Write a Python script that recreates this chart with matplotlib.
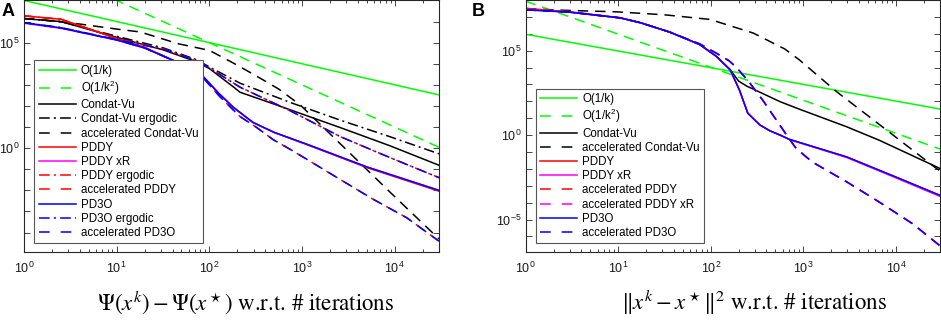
import matplotlib
matplotlib.use('Agg')
import matplotlib.pyplot as plt
from matplotlib.ticker import FixedLocator, FuncFormatter, NullFormatter, NullLocator
import numpy as np

plt.rcParams['font.family'] = ['Liberation Sans', 'DejaVu Sans']
plt.rcParams['lines.scale_dashes'] = False

# ---------------- Panel A data (objective gap) ----------------
A_k_rate = [1, 30000]
A_rate1 = [1e7, 333]
A_rate2 = [1e9, 1.1]

A_k_cv = [1, 2.5, 10, 32, 72, 100, 182, 214, 490, 2570, 8900, 30000]
A_cv = [1.38e6, 1.0e6, 1.78e5, 4.5e4, 1.26e4, 5.9e3, 794, 447, 126, 9.5, 1.29, 0.155]

A_k_cverg = [1, 2.5, 10, 32, 72, 100, 214, 740, 2570, 8900, 30000]
A_cverg = [1.38e6, 1.0e6, 2.0e5, 5.6e4, 1.58e4, 7.1e3, 1.2e3, 148, 21.4, 3.47, 0.54]

A_k_acv = [1, 1.7, 4, 10, 18, 46, 100, 182, 316, 560, 955, 3160, 10000, 30000]
A_acv = [1.41e6, 1.15e6, 7.6e5, 4.4e5, 3.2e5, 8.9e4, 4.3e4, 1.07e4, 2.75e3, 631, 112, 0.68, 5.0e-3, 5.0e-5]

A_k_sol = [1, 2.5, 10, 20, 41, 87, 126, 182, 295, 500, 1120, 5000, 30000]
A_pddy = [1.86e6, 1.29e6, 1.58e5, 6.0e4, 1.45e4, 2.3e3, 398, 85, 16.6, 5.5, 1.48, 0.12, 9.1e-3]
A_pddyxr = [8.3e5, 4.8e5, 1.32e5, 5.6e4, 1.41e4, 2.3e3, 398, 85, 16.6, 5.6, 1.55, 0.129, 0.01]
A_pd3o = [8.9e5, 5.0e5, 1.35e5, 5.6e4, 1.41e4, 2.3e3, 398, 85, 16.6, 5.6, 1.55, 0.129, 0.01]

A_k_erg = [1, 2.5, 10, 32, 72, 100, 214, 740, 2570, 8900, 30000]
A_pddyerg = [1.86e6, 1.26e6, 1.58e5, 5.0e4, 1.45e4, 6.3e3, 776, 60, 3.55, 0.355, 0.040]
A_pd3oerg = [8.9e5, 5.2e5, 1.41e5, 4.8e4, 1.45e4, 6.3e3, 776, 60, 3.55, 0.355, 0.040]

A_k_acc = [1, 2.5, 10, 20, 41, 87, 126, 182, 214, 324, 490, 740, 1120, 2570, 5900, 13500, 30000]
A_accpddy = [1.86e6, 1.29e6, 1.58e5, 6.0e4, 1.41e4, 2.0e3, 316, 63, 31.6, 9.5, 2.5, 0.89, 0.30, 0.033, 3.7e-3, 5.0e-4, 3.9e-5]
A_accpd3o = [8.9e5, 5.0e5, 1.35e5, 5.6e4, 1.41e4, 2.0e3, 316, 63, 31.6, 9.5, 2.5, 0.89, 0.30, 0.033, 3.7e-3, 5.0e-4, 3.9e-5]

# ---------------- Panel B data (distance to solution) ----------------
B_k_rate = [1, 30000]
B_rate1 = [9.3e5, 35]
B_rate2 = [8.5e7, 0.15]

B_k_cv = [1, 3, 10.5, 17.4, 36, 76, 115, 162, 200, 245, 302, 562, 912, 2950, 6600, 27500, 30000]
B_cv = [2.8e7, 1.9e7, 8.7e6, 4.5e6, 1.26e6, 2.3e5, 4.6e4, 7.4e3, 1.58e3, 794, 468, 95, 34, 3.1, 0.5, 0.0132, 0.0105]

B_k_acv = [1, 3, 9.5, 32, 98, 288, 630, 910, 2290, 7940, 27500, 30000]
B_acv = [3.0e7, 2.4e7, 2.0e7, 1.32e7, 7.1e6, 1.1e6, 1.26e5, 2.8e4, 372, 2.0, 0.0105, 7.9e-3]

B_k_sol = [1, 3, 10.5, 17.4, 36, 76, 115, 162, 204, 251, 339, 437, 562, 708, 2950, 10000, 30000]
B_pddy = [3.2e7, 2.0e7, 8.9e6, 4.5e6, 1.26e6, 2.3e5, 4.6e4, 7.4e3, 468, 20, 4.0, 1.78, 1.0, 0.56, 0.051, 3.3e-3, 2.7e-4]
B_pddyxr = [2.8e7, 1.9e7, 8.7e6, 4.5e6, 1.26e6, 2.3e5, 4.6e4, 7.4e3, 468, 20, 4.0, 1.78, 1.0, 0.54, 0.047, 2.95e-3, 2.35e-4]
B_pd3o = [2.6e7, 1.9e7, 8.7e6, 4.5e6, 1.26e6, 2.3e5, 4.6e4, 7.4e3, 468, 20, 4.0, 1.78, 1.0, 0.56, 0.051, 3.3e-3, 2.7e-4]

B_k_acc = [1, 3, 10.5, 17.4, 36, 76, 115, 158, 190, 263, 372, 468, 661, 813, 1000, 1259, 2950, 6600, 15100, 30000]
B_accpddy = [3.2e7, 2.0e7, 8.9e6, 4.5e6, 1.26e6, 2.5e5, 7.1e4, 2.5e4, 1.0e4, 1.26e3, 100, 15.8, 1.0, 0.2, 0.071, 0.025, 1.7e-3, 1.1e-4, 5.75e-6, 2.8e-7]
B_accpddyxr = [2.8e7, 1.9e7, 8.7e6, 4.5e6, 1.26e6, 2.5e5, 7.1e4, 2.5e4, 1.0e4, 1.26e3, 100, 15.8, 1.0, 0.2, 0.071, 0.025, 1.7e-3, 1.1e-4, 5.75e-6, 2.8e-7]
B_accpd3o = [2.6e7, 1.9e7, 8.7e6, 4.5e6, 1.26e6, 2.5e5, 7.1e4, 2.5e4, 1.0e4, 1.26e3, 100, 15.8, 1.0, 0.2, 0.071, 0.025, 1.7e-3, 1.1e-4, 5.75e-6, 2.8e-7]

# axis ticks (decades inside each panel's range)
X_DECADES = [1, 10, 100, 1000, 10000]
A_Y_DECADES = [1e-4, 1e-3, 1e-2, 1e-1, 1, 1e1, 1e2, 1e3, 1e4, 1e5, 1e6, 1e7]
B_Y_DECADES = [1e-7, 1e-6, 1e-5, 1e-4, 1e-3, 1e-2, 1e-1, 1, 1e1, 1e2, 1e3, 1e4, 1e5, 1e6, 1e7, 1e8]

GREEN = '#00ff00'
RED = '#ff0000'
MAG = '#ff00ff'
BLUE = '#0000ff'
BLACK = '#000000'
SOLID = '-'
DASH = (0, (7.5, 5.0))
DASHDOT = (0, (7.5, 2.8, 1.4, 2.8))
LEG_DASH = (0, (7.7, 7.9))
LEG_DASHDOT = (0, (7.7, 3.0, 1.5, 3.0))
LW = 1.1
AXC = '#262626'

fig = plt.figure(figsize=(9.41, 3.2), dpi=100)
axA = fig.add_axes([24 / 941, 1 - 252 / 320, 415 / 941, 252 / 320])
axB = fig.add_axes([525.7 / 941, 1 - 252 / 320, 414.3 / 941, 252 / 320])


def yfmt(v, p):
    e = int(np.round(np.log10(v)))
    if e % 5 == 0:
        return r'$\mathdefault{10^{%d}}$' % e
    return ''


def xfmt(v, p):
    e = int(np.round(np.log10(v)))
    return r'$\mathdefault{10^{%d}}$' % e


def style(ax, ylim, ydec):
    ax.set_xscale('log')
    ax.set_yscale('log')
    ax.set_xlim(1, 3e4)
    ax.set_ylim(*ylim)
    xminor = [m * d for d in X_DECADES for m in range(2, 10) if m * d <= 3e4]
    ax.xaxis.set_major_locator(FixedLocator(X_DECADES))
    ax.xaxis.set_major_formatter(FuncFormatter(xfmt))
    ax.xaxis.set_minor_locator(FixedLocator(xminor))
    ax.xaxis.set_minor_formatter(NullFormatter())
    ax.yaxis.set_major_locator(FixedLocator(ydec))
    ax.yaxis.set_minor_locator(NullLocator())
    ax.yaxis.set_major_formatter(FuncFormatter(yfmt))
    ax.tick_params(which='both', direction='in', top=True, right=True,
                   color=AXC, width=0.6, labelsize=9, labelcolor='#1a1a1a')
    ax.tick_params(which='major', length=4)
    ax.tick_params(which='minor', length=2)
    ax.tick_params(axis='x', pad=6)
    ax.tick_params(axis='y', pad=3)
    for s in ax.spines.values():
        s.set_color(AXC)
        s.set_linewidth(0.8)


style(axA, (1.2e-5, 1.05e7), A_Y_DECADES)
style(axB, (1.2e-7, 1.0e8), B_Y_DECADES)

series_A = [
    (A_k_rate, A_rate1, GREEN, SOLID, 'O(1/k)'),
    (A_k_rate, A_rate2, GREEN, DASH, r'O(1/k$^{\mathdefault{2}}$)'),
    (A_k_cv, A_cv, BLACK, SOLID, 'Condat-Vu'),
    (A_k_cverg, A_cverg, BLACK, DASHDOT, 'Condat-Vu ergodic'),
    (A_k_acv, A_acv, BLACK, DASH, 'accelerated Condat-Vu'),
    (A_k_sol, A_pddy, RED, SOLID, 'PDDY'),
    (A_k_sol, A_pddyxr, MAG, SOLID, 'PDDY xR'),
    (A_k_erg, A_pddyerg, RED, DASHDOT, 'PDDY ergodic'),
    (A_k_acc, A_accpddy, RED, DASH, 'accelerated PDDY'),
    (A_k_sol, A_pd3o, BLUE, SOLID, 'PD3O'),
    (A_k_erg, A_pd3oerg, BLUE, DASHDOT, 'PD3O ergodic'),
    (A_k_acc, A_accpd3o, BLUE, DASH, 'accelerated PD3O'),
]

series_B = [
    (B_k_rate, B_rate1, GREEN, SOLID, 'O(1/k)'),
    (B_k_rate, B_rate2, GREEN, DASH, r'O(1/k$^{\mathdefault{2}}$)'),
    (B_k_cv, B_cv, BLACK, SOLID, 'Condat-Vu'),
    (B_k_acv, B_acv, BLACK, DASH, 'accelerated Condat-Vu'),
    (B_k_sol, B_pddy, RED, SOLID, 'PDDY'),
    (B_k_sol, B_pddyxr, MAG, SOLID, 'PDDY xR'),
    (B_k_acc, B_accpddy, RED, DASH, 'accelerated PDDY'),
    (B_k_acc, B_accpddyxr, MAG, DASH, 'accelerated PDDY xR'),
    (B_k_sol, B_pd3o, BLUE, SOLID, 'PD3O'),
    (B_k_acc, B_accpd3o, BLUE, DASH, 'accelerated PD3O'),
]


def draw(ax, series, anchor):
    for k, y, c, ls, lab in series:
        ax.plot(k, y, color=c, linestyle=ls, lw=LW, label=lab)
    leg = ax.legend(loc='lower left', bbox_to_anchor=anchor, fontsize=8.3,
                    frameon=True, fancybox=False, framealpha=1,
                    edgecolor='#555555', borderaxespad=0, handlelength=3.2,
                    handletextpad=0.45, labelspacing=0.19, borderpad=0.38)
    leg.get_frame().set_linewidth(0.8)
    for h, (k, y, c, ls, lab) in zip(leg.legend_handles, series):
        if ls == DASH:
            h.set_linestyle(LEG_DASH)
        elif ls == DASHDOT:
            h.set_linestyle(LEG_DASHDOT)


draw(axA, series_A, (0.0248, 0.0345))
draw(axB, series_B, (0.0241, 0.0345))

fig.text(2 / 941, 1 - 12 / 320, 'A', fontsize=13, fontweight='bold', va='center', ha='left')
fig.text(472 / 941, 1 - 12 / 320, 'B', fontsize=13, fontweight='bold', va='center', ha='left')

fig.text(245.8 / 941, 1 - 303 / 320, r'$\Psi(x^k) - \Psi(x^\star)$ w.r.t. # iterations',
         ha='center', va='center', fontsize=16.5, family='STIXGeneral', math_fontfamily='stix')
fig.text(754 / 941, 1 - 303 / 320, r'$\|x^k - x^\star\|^2$ w.r.t. # iterations',
         ha='center', va='center', fontsize=16.5, family='STIXGeneral', math_fontfamily='stix')

fig.savefig('out.png', dpi=100)
